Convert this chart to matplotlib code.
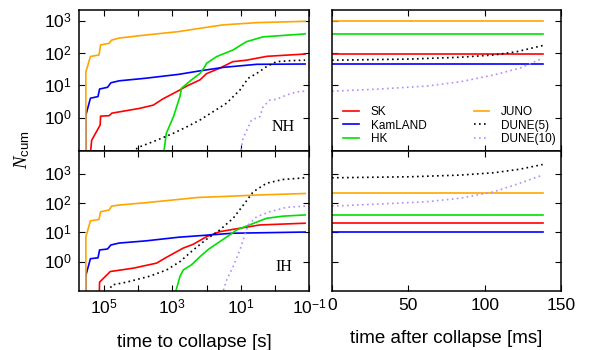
import numpy as np
import matplotlib
matplotlib.use('Agg')
import matplotlib.pyplot as plt
from matplotlib.lines import Line2D

plt.rcParams['font.family'] = ['Liberation Sans', 'DejaVu Sans']
plt.rcParams['mathtext.fontset'] = 'custom'
plt.rcParams['mathtext.rm'] = 'Liberation Sans'
plt.rcParams['mathtext.it'] = 'Liberation Serif:italic'

# --- data: time to collapse [s] and cumulative counts ---
# normal hierarchy (NH)
nh_juno_t = [3.4e5, 3.4e5, 2.5e5, 1.4e5, 1.26e5, 7.1e4, 6.0e4, 3.6e4, 6.0e3, 650, 165, 33, 3.4, 0.13]
nh_juno_n = [0.05, 26, 78, 87, 178, 200, 250, 290, 360, 460, 575, 740, 870, 955]
nh_kam_t = [3.4e5, 3.4e5, 2.5e5, 1.5e5, 1.35e5, 7.9e4, 6.3e4, 3.6e4, 6.0e3, 650, 175, 32, 3.4, 0.13]
nh_kam_n = [0.05, 1.2, 4.0, 4.5, 7.7, 8.7, 12, 13.8, 16.6, 21.9, 27.5, 36, 44.7, 45.7]
nh_sk_t = [2.6e5, 2.3e5, 1.3e5, 1.26e5, 7.1e4, 5.9e4, 8.9e3, 3.6e3, 1.9e3, 600, 380, 155, 100, 41, 17, 6.8, 1.7, 0.13]
nh_sk_n = [0.05, 0.2, 0.59, 1.12, 1.15, 1.38, 1.95, 2.45, 3.8, 7.2, 9.5, 14.8, 23, 34, 54, 60, 79, 93]
nh_hk_t = [1.9e3, 1.5e3, 930, 600, 540, 275, 155, 112, 100, 50, 17, 6.8, 2.2, 0.13]
nh_hk_n = [0.05, 0.33, 1.07, 4.5, 8.1, 14.8, 23.4, 38, 48, 78, 123, 224, 316, 390]
nh_d5_t = [1.55e4, 8.9e3, 2.9e3, 930, 380, 155, 63, 26, 10.5, 6.0, 3.4, 1.74, 0.89, 0.36, 0.13]
nh_d5_n = [0.09, 0.126, 0.2, 0.33, 0.52, 0.85, 1.55, 2.8, 7.2, 16.6, 23.4, 38, 54, 58, 60]
nh_d10_t = [11, 8.5, 6.0, 4.8, 2.75, 2.2, 1.4, 0.89, 0.46, 0.23, 0.13]
nh_d10_n = [0.05, 0.23, 0.52, 0.85, 1.07, 2.2, 3.5, 3.7, 5.0, 6.3, 6.6]

# inverted hierarchy (IH)
ih_juno_t = [3.4e5, 3.4e5, 2.5e5, 1.4e5, 1.26e5, 7.1e4, 6.0e4, 3.6e4, 6.0e3, 650, 165, 32, 3.4, 0.13]
ih_juno_n = [0.05, 7.1, 24.5, 27.5, 50, 57.5, 78, 85, 102, 132, 155, 166, 186, 210]
ih_kam_t = [3.4e5, 3.4e5, 2.5e5, 1.5e5, 1.35e5, 7.9e4, 6.3e4, 3.6e4, 6.0e3, 650, 175, 17, 0.13]
ih_kam_n = [0.05, 0.34, 1.26, 1.35, 2.5, 2.7, 3.7, 4.3, 5.1, 6.8, 7.6, 9.3, 10.2]
ih_sk_t = [1.38e5, 1.35e5, 7.4e4, 6.6e4, 1.38e4, 2.9e3, 1.48e3, 480, 245, 100, 41, 16.6, 2.75, 0.13]
ih_sk_n = [0.05, 0.2, 0.4, 0.46, 0.6, 0.89, 1.41, 2.9, 3.9, 7.1, 10.5, 12.6, 17.8, 20.4]
ih_hk_t = [930, 600, 480, 275, 155, 89, 41, 21, 13.2, 4.3, 1.74, 0.58, 0.13]
ih_hk_n = [0.05, 0.31, 0.52, 0.78, 1.48, 2.6, 4.8, 8.1, 12, 20, 30, 35.5, 39]
ih_d5_t = [7.4e4, 5.9e4, 2.2e4, 4.6e3, 1.48e3, 600, 245, 100, 41, 16.6, 7.6, 4.3, 1.74, 0.58, 0.13]
ih_d5_n = [0.09, 0.16, 0.2, 0.32, 0.52, 1.0, 2.5, 5.8, 12, 30, 98, 240, 470, 630, 720]
ih_d10_t = [39, 26, 16.6, 10.5, 7.6, 6.0, 3.4, 1.4, 0.46, 0.13]
ih_d10_n = [0.05, 0.23, 0.68, 2.5, 8.1, 17.8, 34, 50, 71, 78]

# after collapse [ms]
flat_ms = [0, 138]
nh_flat = [93, 45.7, 390, 955]       # SK, KamLAND, HK, JUNO
ih_flat = [20.4, 10.2, 39, 210]
nh_d5_ms = [0, 51, 84, 106, 121, 138]
nh_d5_after = [60, 65, 74, 87, 110, 170]
nh_d10_ms = [0, 29, 62, 84, 106, 123, 138]
nh_d10_after = [6.6, 7.6, 9.5, 12.9, 21, 34, 69]
ih_d5_ms = [0, 51, 84, 106, 123, 138]
ih_d5_after = [720, 780, 890, 1070, 1410, 2040]
ih_d10_ms = [0, 29, 62, 84, 106, 123, 138]
ih_d10_after = [78, 91, 110, 145, 240, 470, 890]

labels = ['SK', 'KamLAND', 'HK', 'JUNO', 'DUNE(5)', 'DUNE(10)']
colors = ['#ff0000', '#0000ff', '#00e000', '#ffa500', '#000000', '#b48cff']
dot = (0, (1, 2))
LW = 1.2

fig = plt.figure(figsize=(5.91, 3.5), dpi=100)
W, H = 591, 350
def box(x0, y0, x1, y1):
    return [x0 / W, 1 - y1 / H, (x1 - x0) / W, (y1 - y0) / H]

ax_nh = fig.add_axes(box(79, 10, 309, 151))
ax_ih = fig.add_axes(box(79, 151, 309, 291))
ax_nh2 = fig.add_axes(box(332, 10, 561, 151))
ax_ih2 = fig.add_axes(box(332, 151, 561, 291))

ylim_nh = (10 ** -1.03, 10 ** 3.33)
ylim_ih = (10 ** -1.0, 10 ** 3.77)
yt = [1, 10, 100, 1000]
ytl = [r'$10^{0}$', r'$10^{1}$', r'$10^{2}$', r'$10^{3}$']
xt = [1e5, 1e4, 1e3, 1e2, 1e1, 1, 0.1]
xtl = [r'$10^{5}$', '', r'$10^{3}$', '', r'$10^{1}$', '', r'$10^{-1}$']

def style(ax):
    ax.tick_params(which='both', direction='in', top=True, right=True,
                   length=4, width=0.8, labelsize=12.5, pad=5)
    ax.minorticks_off()
    for s in ax.spines.values():
        s.set_linewidth(1.1)

# left panels
for ax, data, ylim, tag in [
    (ax_nh, [(nh_sk_t, nh_sk_n), (nh_kam_t, nh_kam_n), (nh_hk_t, nh_hk_n),
             (nh_juno_t, nh_juno_n), (nh_d5_t, nh_d5_n), (nh_d10_t, nh_d10_n)], ylim_nh, 'NH'),
    (ax_ih, [(ih_sk_t, ih_sk_n), (ih_kam_t, ih_kam_n), (ih_hk_t, ih_hk_n),
             (ih_juno_t, ih_juno_n), (ih_d5_t, ih_d5_n), (ih_d10_t, ih_d10_n)], ylim_ih, 'IH')]:
    for i, (t, n) in enumerate(data):
        ls = dot if i >= 4 else '-'
        ax.plot(t, n, color=colors[i], lw=LW, ls=ls)
    ax.set_xscale('log')
    ax.set_yscale('log')
    ax.set_xlim(5.4e5, 0.1)
    ax.set_ylim(*ylim)
    style(ax)
    ax.set_xticks(xt)
    ax.set_yticks(yt)
    ax.set_yticklabels(ytl)
    ax.text(0.89, 0.17, tag, transform=ax.transAxes, ha='center', va='center',
            fontsize=11.5, family='Liberation Serif')

ax_nh.set_xticklabels([])
ax_ih.set_xticklabels(xtl)
ax_ih.set_xlabel('time to collapse [s]', fontsize=13.5, labelpad=12)

# right panels
for ax, flat, d5, d10, ylim in [
    (ax_nh2, nh_flat, (nh_d5_ms, nh_d5_after), (nh_d10_ms, nh_d10_after), ylim_nh),
    (ax_ih2, ih_flat, (ih_d5_ms, ih_d5_after), (ih_d10_ms, ih_d10_after), ylim_ih)]:
    for i, v in enumerate(flat):
        ax.plot(flat_ms, [v, v], color=colors[i], lw=LW)
    ax.plot(d5[0], d5[1], color=colors[4], lw=LW, ls=dot)
    ax.plot(d10[0], d10[1], color=colors[5], lw=LW, ls=dot)
    ax.set_yscale('log')
    ax.set_xlim(0, 150)
    ax.set_ylim(*ylim)
    style(ax)
    ax.set_xticks([0, 50, 100, 150])
    ax.set_yticks(yt)
    ax.set_yticklabels([])

ax_nh2.set_xticklabels([])
ax_ih2.set_xlabel('time after collapse [ms]', fontsize=13.5, labelpad=12)

handles = [Line2D([], [], color=colors[i], lw=LW, ls=(dot if i >= 4 else '-')) for i in range(6)]
ax_nh2.legend(handles, labels, ncol=2, loc='lower left', bbox_to_anchor=(0.05, 0.04),
              frameon=False, fontsize=8.5, handlelength=1.3, handletextpad=1.0,
              columnspacing=4.0, labelspacing=0.15, borderpad=0, borderaxespad=0)

fig.text(22 / W, 1 - 150 / H, r'$N_{\mathrm{cum}}$', rotation=90, ha='center', va='center',
         fontsize=13.5)

fig.savefig('out.png', dpi=100)
